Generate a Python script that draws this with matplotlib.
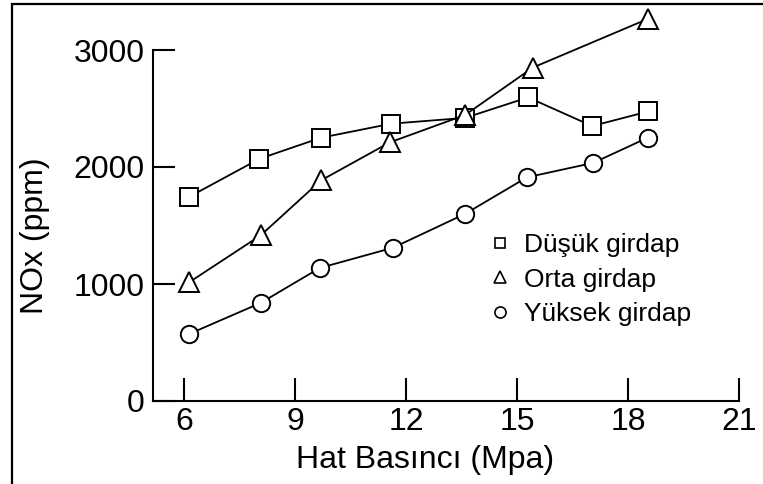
import matplotlib
matplotlib.use("Agg")
import matplotlib.pyplot as plt
from matplotlib.patches import Rectangle
from matplotlib.lines import Line2D

plt.rcParams['font.family'] = ['Liberation Sans', 'DejaVu Sans']

x_dusuk = [6.14, 8.04, 9.7, 11.6, 13.6, 15.3, 17.03, 18.55]
y_dusuk = [1745, 2070, 2250, 2370, 2420, 2595, 2350, 2475]
x_orta = [6.14, 8.07, 9.7, 11.56, 13.6, 15.43, 18.53]
y_orta = [1015, 1415, 1885, 2210, 2445, 2850, 3265]
x_yuksek = [6.14, 8.07, 9.67, 11.65, 13.6, 15.27, 17.06, 18.53]
y_yuksek = [573, 838, 1137, 1310, 1600, 1912, 2035, 2250]

labels = ['Düşük girdap', 'Orta girdap', 'Yüksek girdap']
xticks = [6, 9, 12, 15, 18, 21]
yticks = [0, 1000, 2000, 3000]

W, H = 763, 484
fig = plt.figure(figsize=(W / 100, H / 100), dpi=100)
fig.patches.append(Rectangle((12 / W, -0.05), 1.2, 1 - 4 / H + 0.05,
                             transform=fig.transFigure, fill=False,
                             edgecolor='black', linewidth=1.6))

ax = fig.add_axes([153 / W, 1 - 401 / H, (739 - 153) / W, (401 - 50) / H])
ax.set_xlim(6 - 31 / 37, 21)
ax.set_ylim(0, 3000)

common = dict(color='black', linewidth=1.3, markerfacecolor='white',
              markeredgecolor='black', markeredgewidth=1.4, clip_on=False)
ax.plot(x_dusuk, y_dusuk, marker='s', markersize=13, zorder=3, **common)
ax.plot(x_yuksek, y_yuksek, marker='o', markersize=12.5, zorder=3, **common)
ax.plot(x_orta, y_orta, marker='^', markersize=15, zorder=4, **common)

for s in ['top', 'right']:
    ax.spines[s].set_visible(False)
for s in ['left', 'bottom']:
    ax.spines[s].set_linewidth(1.5)

ax.set_xticks(xticks)
ax.set_yticks(yticks)
ax.tick_params(axis='x', direction='in', length=16.5, width=1.5, pad=4,
               labelsize=23)
ax.tick_params(axis='y', direction='in', length=16, width=1.5, pad=6,
               labelsize=23)

ax.set_xlabel('Hat Basıncı (Mpa)', fontsize=23)
ax.xaxis.set_label_coords(0.464, -0.125)
ax.set_ylabel('NOx (ppm)', fontsize=23)
ax.yaxis.set_label_coords(-0.175, 0.47)

handles = [
    Line2D([], [], linestyle='none', marker='s', markersize=7,
           markerfacecolor='white', markeredgecolor='black', markeredgewidth=1.2),
    Line2D([], [], linestyle='none', marker='^', markersize=9,
           markerfacecolor='white', markeredgecolor='black', markeredgewidth=1.2),
    Line2D([], [], linestyle='none', marker='o', markersize=8,
           markerfacecolor='white', markeredgecolor='black', markeredgewidth=1.2),
]
ax.legend(handles, labels, frameon=False, fontsize=19,
          loc='upper left', bbox_to_anchor=((492 - 153) / 586, (401 - 233) / 351),
          handlelength=0.6, handletextpad=0.6, labelspacing=0.4,
          borderpad=0, borderaxespad=0)

fig.savefig('out.png', dpi=100)
